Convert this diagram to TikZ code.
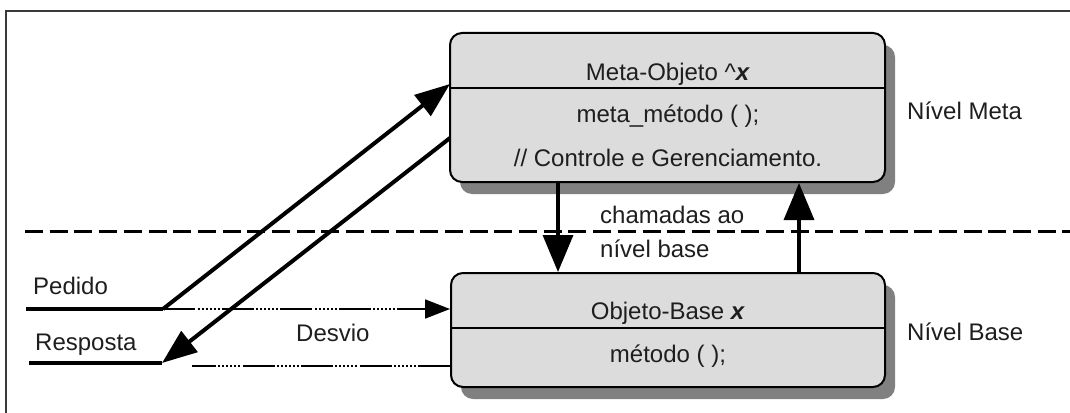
\documentclass[tikz,border=0pt]{standalone}
\usepackage{fontspec}
\setmainfont{Liberation Sans}
\usetikzlibrary{arrows.meta,shadows}
\definecolor{boxfill}{HTML}{DCDCDC}
\definecolor{shade}{HTML}{808080}
\definecolor{ink}{HTML}{1E1E1E}
\definecolor{framecol}{HTML}{3A3A3A}

\begin{document}
\begin{tikzpicture}[x=1pt,y=-1pt,
  font=\fontsize{24}{28}\selectfont,
  objbox/.style={draw=black, line width=2pt, fill=boxfill, rounded corners=12pt, inner sep=0pt,
    general shadow={fill=shade, shadow xshift=10pt, shadow yshift=-12pt}},
  lbl/.style={inner sep=0pt, text=ink},
  thickline/.style={line width=4pt},
  divider/.style={line width=1.8pt},
  bigarrow/.style={line width=3.5pt, -{Triangle[length=37pt,width=30pt]}},
  diagarrow/.style={line width=4pt, -{Triangle[length=35pt,width=26pt]}},
  smallhead/.style={-{Triangle[length=25pt,width=19pt]}},
  dashdot/.style={line width=1.8pt, dash pattern=on 32pt off 2.5pt on 2pt off 2pt on 2pt off 2pt on 2pt off 2pt on 2pt off 2pt on 2pt off 2pt on 2pt off 2pt},
  levelline/.style={line width=2.5pt, dash pattern=on 18pt off 6.7pt},
]
\useasboundingbox (0,0) rectangle (1070,412);

% outer frame
\draw[framecol, line width=2.2pt] (6,420) -- (6,11) -- (1080,11);

% boundary between the meta level and the base level
\coordinate (lvlL) at (25,231.5);
\coordinate (lvlR) at (1070,231.5);
\draw[levelline] (lvlL) -- (lvlR);

% the two objects
\node[objbox, minimum width=435pt, minimum height=149pt] (meta) at (667.5,107.5) {};
\node[objbox, minimum width=434pt, minimum height=114pt] (base) at (668,330) {};

\coordinate (mdiv) at (0,88);
\coordinate (bdiv) at (0,328);
\draw[divider] (meta.west |- mdiv) -- (meta.east |- mdiv);
\draw[divider] (base.west |- bdiv) -- (base.east |- bdiv);

% object texts
\node[lbl, anchor=base] (mt) at (668,80) {Meta-Objeto \textasciicircum\textbf{\textit{x}}};
\node[lbl, anchor=base] (mm) at (668,122) {meta\_método ( );};
\node[lbl, anchor=base] (mc) at (668,166) {// Controle e Gerenciamento.};
\node[lbl, anchor=base] (bt) at (668,319) {Objeto-Base \textbf{\textit{x}}};
\node[lbl, anchor=base] (bm) at (668,362) {método ( );};

% level names and side labels
\node[lbl, anchor=base west] (nmeta) at (907,119) {Nível Meta};
\node[lbl, anchor=base west] (nbase) at (907,340) {Nível Base};
\node[lbl, anchor=base west] (ped) at (33,294) {Pedido};
\node[lbl, anchor=base west] (resp) at (35,350) {Resposta};
\node[lbl, anchor=base west] (desv) at (296,341) {Desvio};
\node[lbl, anchor=base west] (cham1) at (600,223) {chamadas ao};
\node[lbl, anchor=base west] (cham2) at (600,257) {nível base};

% calls between the levels
\coordinate (dn) at (558,0);
\coordinate (up) at (799,0);
\draw[bigarrow] (dn |- meta.south) -- (dn |- base.north);
\draw[bigarrow] (up |- base.north) -- (up |- meta.south);

% request: diverted to the meta-object, direct path dotted
\coordinate (pedL) at (26,309);
\coordinate (pedC) at (163,309);
\coordinate (metaIn) at (450,84);
\draw[thickline] (pedL) -- (pedC);
\draw[dashdot, smallhead] (pedC) -- (base.west |- pedC);
\draw[diagarrow] (pedC) -- (metaIn);

% response back from the meta-object
\coordinate (metaOut) at (450,138);
\coordinate (resC) at (162,363);
\coordinate (resL) at (29,363);
\coordinate (desvEnd) at (192,366);
\draw[thickline] (resL) -- (resC);
\draw[dashdot] (base.west |- desvEnd) -- (desvEnd);
\draw[diagarrow] (metaOut) -- (resC);
\end{tikzpicture}
\end{document}
